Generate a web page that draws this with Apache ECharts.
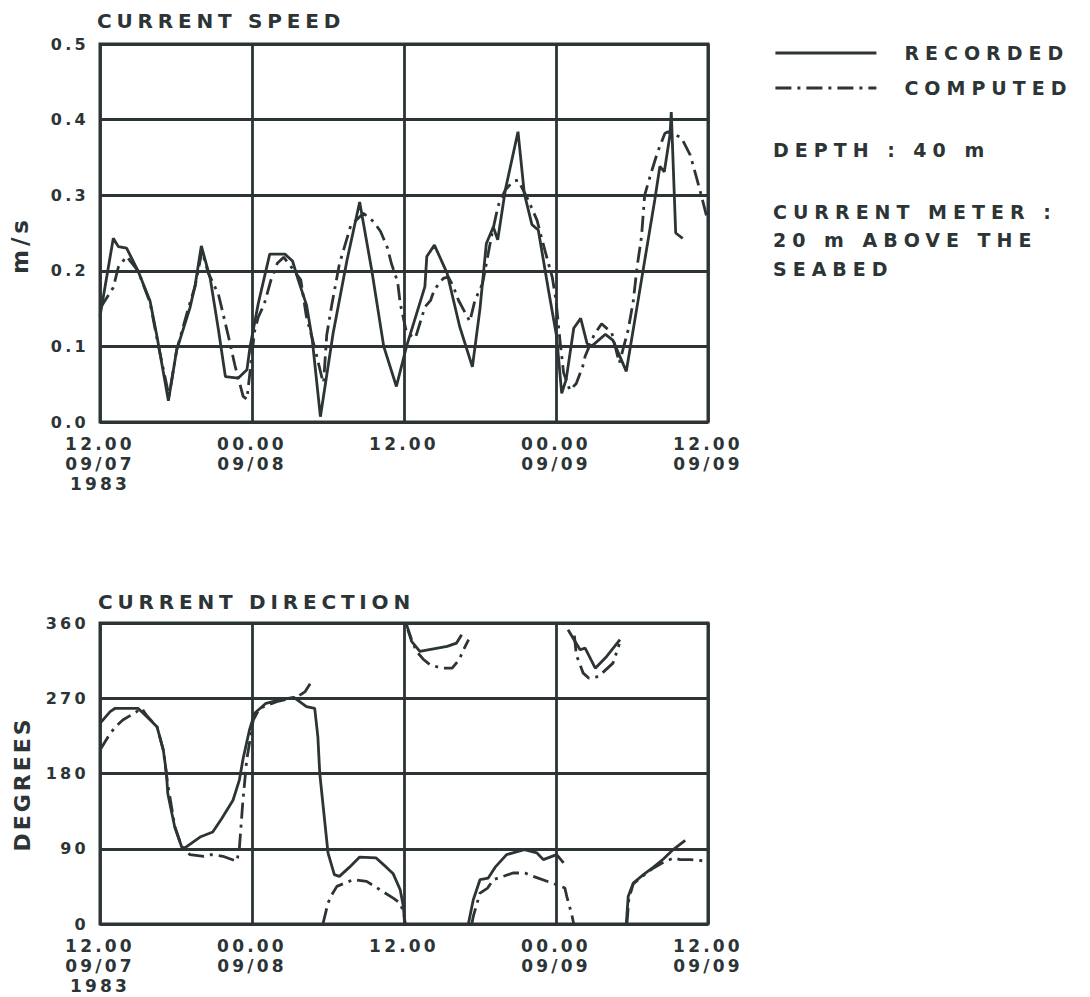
<!DOCTYPE html>
<html>
<head>
<meta charset="utf-8">
<script src="https://cdn.jsdelivr.net/npm/echarts@6/dist/echarts.min.js"></script>
<style>
  html, body { margin: 0; padding: 0; background: #ffffff; }
  #chart { width: 1090px; height: 997px; }
  /* wide plotter-style lettering */
  #chart text[style*="16px"] { letter-spacing: 3.3px; }
  #chart text[style*="17px"] { letter-spacing: 3.2px; }
  #chart text[style*="19px"] { letter-spacing: 6px; }
  #chart text[style*="20px"] { letter-spacing: 4.8px; }
  #chart text[style*="22px"] { letter-spacing: 3px; }
  #chart text[style*="23px"] { letter-spacing: 4px; }
</style>
</head>
<body>
<div id="chart"></div>
<script>
// Time axis: hours after 12.00 on 09/07/1983, ticks every 12 h
const xTickLabels = ['12.00\n09/07\n1983', '00.00\n09/08', '12.00', '00.00\n09/09', '12.00\n09/09'];
const speedTicks = [0, 0.1, 0.2, 0.3, 0.4, 0.5];
const directionTicks = [0, 90, 180, 270, 360];

// Current speed (m/s): [hour, value]
const speedRecorded = [
  [0,0.14],[1.05,0.243],[1.45,0.232],[2.1,0.23],[3.0,0.2],[3.95,0.16],[4.5,0.113],[5.4,0.028],
  [6.05,0.095],[7.1,0.151],[7.5,0.18],[8.0,0.233],[8.7,0.19],[9.35,0.122],[9.9,0.06],[10.9,0.058],
  [11.6,0.069],[11.85,0.1],[12.5,0.157],[13.4,0.222],[14.6,0.222],[15.2,0.213],[15.65,0.188],
  [16.3,0.155],[16.75,0.11],[17.4,0.007],[18.4,0.117],[19.5,0.214],[20.5,0.291],[21.45,0.201],
  [22.4,0.1],[23.4,0.047],[24.2,0.1],[25.65,0.179],[25.8,0.219],[26.4,0.234],[27.4,0.197],
  [28.4,0.126],[29.4,0.073],[30.0,0.15],[30.5,0.236],[31.05,0.258],[31.4,0.241],[32.0,0.307],
  [33.0,0.384],[33.5,0.302],[34.1,0.261],[34.6,0.254],[35.4,0.175],[36.05,0.113],[36.45,0.038],
  [36.8,0.056],[37.4,0.124],[37.95,0.137],[38.45,0.104],[38.8,0.1],[39.9,0.116],[40.5,0.108],
  [41.55,0.067],[42.75,0.188],[43.8,0.294],[44.2,0.338],[44.55,0.331],[45.0,0.38],[45.1,0.41],
  [45.45,0.25],[46.0,0.243]
];
const speedComputed = [
  [0,0.15],[1.05,0.178],[1.45,0.205],[2.1,0.219],[3.0,0.2],[3.95,0.158],[4.5,0.11],[5.45,0.034],
  [6.05,0.095],[7.0,0.152],[7.5,0.179],[8.05,0.226],[8.55,0.197],[9.35,0.169],[10.1,0.116],
  [10.65,0.075],[11.3,0.034],[11.6,0.03],[12.2,0.12],[12.5,0.139],[12.95,0.155],[13.5,0.188],
  [14.0,0.21],[14.5,0.218],[15.1,0.205],[15.85,0.188],[16.3,0.139],[17.0,0.095],[17.5,0.06],
  [17.65,0.052],[17.9,0.115],[18.3,0.155],[18.9,0.209],[19.8,0.26],[20.8,0.276],[21.6,0.265],
  [22.15,0.252],[22.7,0.23],[23.0,0.21],[23.5,0.185],[23.7,0.157],[24.2,0.118],[24.9,0.111],
  [25.65,0.152],[26.1,0.161],[26.4,0.175],[27.1,0.19],[27.5,0.192],[27.9,0.179],[28.3,0.161],
  [29.2,0.133],[29.6,0.161],[30.2,0.183],[30.9,0.245],[31.3,0.276],[31.5,0.289],[32.0,0.307],
  [32.6,0.318],[33.0,0.32],[33.8,0.294],[34.5,0.267],[34.9,0.241],[35.4,0.21],[35.7,0.192],
  [36.0,0.161],[36.3,0.11],[36.6,0.065],[37.1,0.042],[37.6,0.051],[38.1,0.073],[38.3,0.087],
  [39.0,0.115],[39.6,0.13],[40.4,0.118],[41.0,0.078],[41.7,0.122],[42.1,0.16],[42.4,0.205],
  [42.75,0.245],[43.0,0.3],[43.5,0.329],[44.0,0.356],[44.6,0.382],[44.85,0.384],[45.9,0.376],
  [46.6,0.353],[47.1,0.323],[47.5,0.298],[48.0,0.265]
];

// Current direction (degrees): [hour, value]; null marks a wrap through 0/360
const directionRecorded = [
  [0,240],[0.8,254],[1.2,258],[3.0,258],[3.7,248],[4.5,236],[5.0,208],[5.25,180],[5.35,156],
  [5.9,116],[6.45,92],[6.7,91],[7.9,104],[8.9,110],[9.6,126],[10.5,148],[11.0,172],[11.3,198],
  [11.8,232],[12.2,252],[13.1,264],[14.2,268],[15.3,271],[16.3,260],[16.95,258],[17.2,224],
  [17.35,180],[18.0,85],[18.5,59],[18.9,57],[19.7,68],[20.5,80],[21.8,79],[22.6,68],[23.15,60],
  [23.7,41],[23.95,21],[24.05,0],
  null,
  [24.3,352],[24.6,338],[25.25,326],[27.4,332],[28.15,336],[28.55,346],
  null,
  [29.08,0],[29.47,29],[30.0,53],[30.65,55],[31.2,68],[32.1,83],[33.5,89],[34.5,85],[35.0,77],
  [36.05,83],[36.6,73],
  null,
  [36.95,352],[37.9,328],[38.3,330],[39.1,306],[40.0,320],[41.05,340],
  null,
  [41.55,0],[41.7,33],[42.1,49],[42.9,59],[43.7,68],[44.5,78],[45.25,89],[46.2,100]
];
const directionComputed = [
  [0,208],[0.8,228],[1.3,237],[1.8,244],[2.9,254],[3.3,258],[3.7,249],[4.5,236],[5.0,208],
  [5.3,172],[5.9,117],[6.5,90],[7.1,83],[8.2,81],[8.8,83],[9.7,81],[10.8,75],[11.0,90],
  [11.27,145],[11.58,196],[12.1,244],[12.6,258],[13.95,266],[15.5,271],[16.2,278],[16.7,290],
  null,
  [17.6,0],[18.0,25],[18.3,35],[18.7,45],[20.0,53],[21.05,51],[22.1,41],[23.15,31],[23.7,25],
  [24.0,12],[24.1,0],
  null,
  [24.2,358],[24.6,340],[25.0,326],[25.5,317],[26.05,310],[27.0,306],[27.8,306],[28.35,316],
  [28.7,328],[29.1,340],
  null,
  [29.35,0],[29.47,9],[30.0,37],[30.6,43],[31.05,53],[32.6,61],[33.55,61],[34.2,57],[36.05,47],
  [36.7,43],[36.85,33],[37.25,11],[37.4,0],
  null,
  [37.45,345],[37.6,322],[38.15,300],[38.6,294],[39.35,296],[40.5,312],[41.0,335],
  null,
  [41.6,0],[41.75,30],[42.1,48],[42.9,58],[43.7,67],[44.5,74],[45.3,79],[45.8,77],[46.6,77],[48.0,75]
];

const noteLines = ['DEPTH : 40 m', 'CURRENT METER :', '20 m ABOVE THE', 'SEABED'];

const INK = '#2c3436';
const FONT = 'DejaVu Sans';
const COMPUTED_DASH = [16, 6, 3, 6];
const LINE_W = 2.8;

// '-' entries break the polyline where the bearing wraps around
const withBreaks = arr => arr.map(p => (p === null ? ['-', '-'] : p));

const chart = echarts.init(document.getElementById('chart'), null, { renderer: 'svg' });

const gridBase = { left: 100, width: 608, show: true, borderColor: INK, borderWidth: 3, backgroundColor: 'transparent' };
const splitStyle = { show: true, lineStyle: { color: INK, width: 2.8 } };
const labelFont = { color: INK, fontFamily: FONT, fontWeight: 'bold' };

const xAxes = [0, 1].map(i => ({
  type: 'value', gridIndex: i, min: 0, max: 48, interval: 12,
  axisLine: { show: false }, axisTick: { show: false }, splitLine: splitStyle,
  axisLabel: Object.assign({
    margin: 12, fontSize: 17, lineHeight: 20,
    formatter: v => xTickLabels[Math.round(v / 12)]
  }, labelFont)
}));

const yAxes = [
  {
    type: 'value', gridIndex: 0, min: speedTicks[0], max: speedTicks[speedTicks.length - 1], interval: 0.1,
    axisLine: { show: false }, axisTick: { show: false }, splitLine: splitStyle,
    axisLabel: Object.assign({ margin: 11, fontSize: 16, formatter: v => v.toFixed(1) }, labelFont)
  },
  {
    type: 'value', gridIndex: 1, min: directionTicks[0], max: directionTicks[directionTicks.length - 1], interval: 90,
    axisLine: { show: false }, axisTick: { show: false }, splitLine: splitStyle,
    axisLabel: Object.assign({ margin: 11, fontSize: 16, formatter: v => String(v) }, labelFont)
  }
];

const lineBase = { type: 'line', symbol: 'none', smooth: false, connectNulls: false, silent: true };
const HIDDEN = 'rgba(0,0,0,0)';

const option = {
  animation: false,
  backgroundColor: '#ffffff',
  textStyle: { fontFamily: FONT, color: INK },
  title: [
    { text: 'CURRENT SPEED', left: 97, top: 11, padding: 0,
      textStyle: Object.assign({ fontSize: 20 }, labelFont) },
    { text: 'CURRENT DIRECTION', left: 98, top: 592, padding: 0,
      textStyle: Object.assign({ fontSize: 20 }, labelFont) }
  ],
  legend: {
    orient: 'vertical', left: 774, top: 43, padding: 0,
    itemWidth: 101, itemHeight: 14, itemGap: 15,
    selectedMode: false,
    data: ['RECORDED', 'COMPUTED'],
    lineStyle: { width: LINE_W },
    itemStyle: { color: HIDDEN, borderColor: HIDDEN, borderWidth: 0 },
    textStyle: Object.assign({ fontSize: 19, lineHeight: 20, padding: [0, 0, 0, 23] }, labelFont)
  },
  grid: [
    Object.assign({ top: 44, height: 378 }, gridBase),
    Object.assign({ top: 623, height: 301 }, gridBase)
  ],
  xAxis: xAxes,
  yAxis: yAxes,
  graphic: [
    ...noteLines.map((t, i) => ({
      type: 'text', x: 773, y: [150, 212, 240, 269][i], silent: true,
      style: { text: t, fill: INK, font: 'bold 19px "DejaVu Sans"', align: 'left', verticalAlign: 'middle' }
    })),
    { type: 'text', x: 20, y: 245, rotation: Math.PI / 2, silent: true,
      style: { text: 'm/s', fill: INK, font: 'bold 23px "DejaVu Sans"', align: 'center', verticalAlign: 'middle' } },
    { type: 'text', x: 22, y: 784, rotation: Math.PI / 2, silent: true,
      style: { text: 'DEGREES', fill: INK, font: 'bold 22px "DejaVu Sans"', align: 'center', verticalAlign: 'middle' } }
  ],
  series: [
    Object.assign({}, lineBase, { name: 'RECORDED', xAxisIndex: 0, yAxisIndex: 0, data: speedRecorded,
      lineStyle: { color: INK, width: LINE_W }, itemStyle: { color: INK } }),
    Object.assign({}, lineBase, { name: 'COMPUTED', xAxisIndex: 0, yAxisIndex: 0, data: speedComputed,
      lineStyle: { color: INK, width: LINE_W, type: COMPUTED_DASH }, itemStyle: { color: INK } }),
    Object.assign({}, lineBase, { name: 'RECORDED', xAxisIndex: 1, yAxisIndex: 1, data: withBreaks(directionRecorded),
      lineStyle: { color: INK, width: LINE_W }, itemStyle: { color: INK } }),
    Object.assign({}, lineBase, { name: 'COMPUTED', xAxisIndex: 1, yAxisIndex: 1, data: withBreaks(directionComputed),
      lineStyle: { color: INK, width: LINE_W, type: COMPUTED_DASH }, itemStyle: { color: INK } })
  ]
};

chart.setOption(option);

// letter spacing per text size, applied to the rendered SVG text nodes
const SPACING = { 16: 3.3, 17: 3.2, 19: 6, 20: 4.8, 22: 3, 23: 4 };
function spaceText() {
  document.querySelectorAll('#chart text').forEach(t => {
    const fs = Math.round(parseFloat(getComputedStyle(t).fontSize));
    if (SPACING[fs] !== undefined) t.style.letterSpacing = SPACING[fs] + 'px';
  });
}
chart.on('finished', spaceText);
spaceText();
requestAnimationFrame(spaceText);
setTimeout(spaceText, 50);
</script>
</body>
</html>
